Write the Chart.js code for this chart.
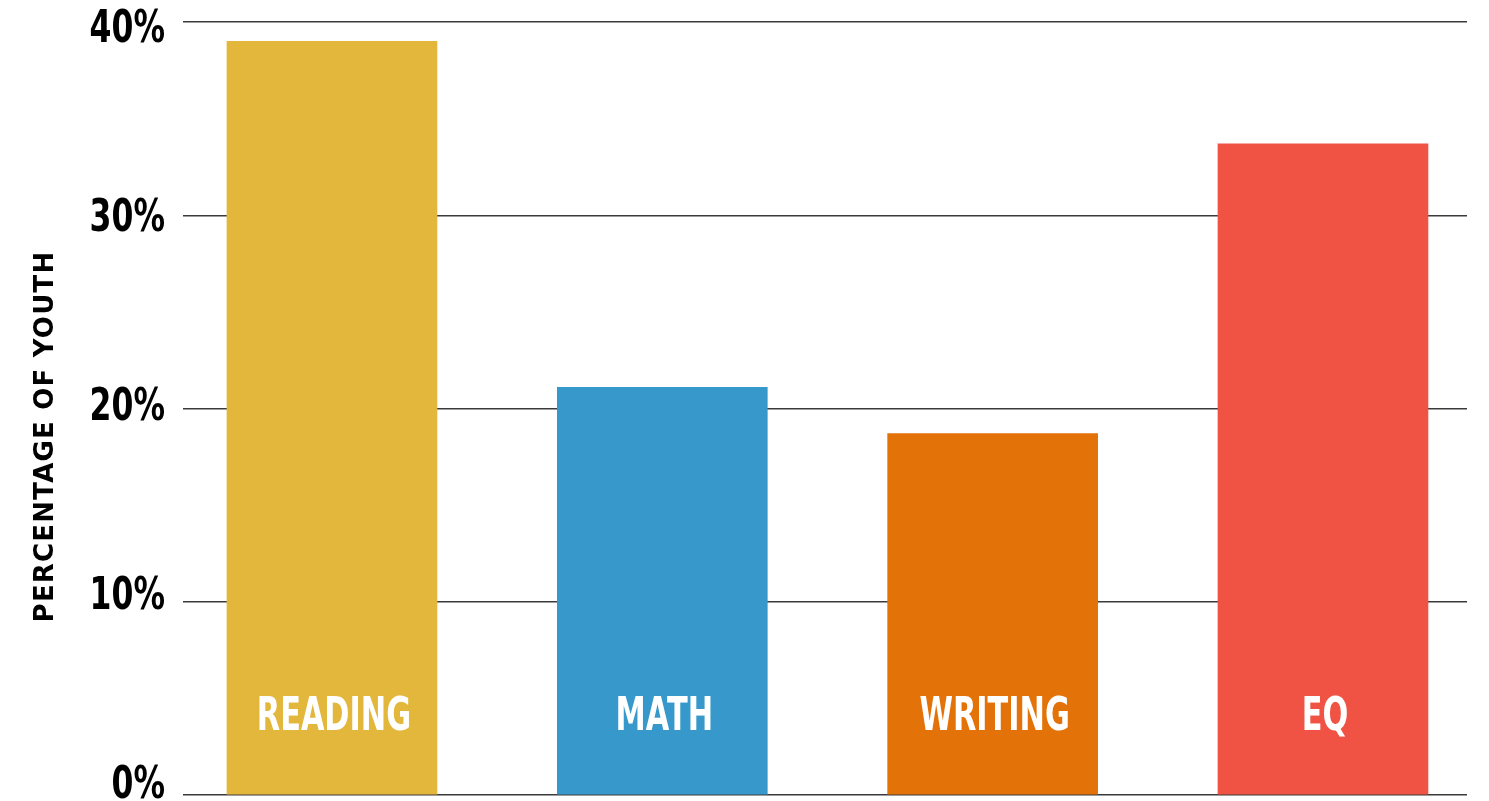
<!DOCTYPE html>
<html lang="en">
<head>
  <meta charset="UTF-8" />
  <title>Percentage of Youth</title>
  <script src="https://cdn.jsdelivr.net/npm/chart.js"></script>
  <style>
    html, body {
      margin: 0;
      padding: 0;
      background: #fff;
    }
    #wrap {
      width: 1489px;
      height: 801px;
      position: relative;
    }
  </style>
</head>
<body>
  <div id="wrap">
    <canvas id="grafico"></canvas>
  </div>

  <script>
    // dados
    const categories = ['READING', 'MATH', 'WRITING', 'EQ'];
    const values = [39.0, 21.1, 18.7, 33.7];
    const barColors = ['#E2B73B', '#3799CB', '#E37209', '#F05344'];
    const yTicks = [0, 10, 20, 30, 40];
    const axisTitle = 'PERCENTAGE OF YOUTH';

    // rotulos do eixo Y, titulo e nomes dentro das barras
    const textosPlugin = {
      id: 'textos',
      afterDatasetsDraw(chart) {
        const ctx = chart.ctx;
        const meta = chart.getDatasetMeta(0);
        const area = chart.chartArea;
        ctx.save();
        ctx.fillStyle = '#fff';
        ctx.font = 'bold 46px "DejaVu Sans"';
        ctx.textAlign = 'center';
        ctx.textBaseline = 'middle';
        meta.data.forEach((bar, i) => {
          ctx.save();
          ctx.translate(bar.x + 2, area.bottom - 77);
          ctx.scale(0.66, 1);
          ctx.fillText(categories[i], 0, 0);
          ctx.restore();
        });
        ctx.restore();
      },
      afterDraw(chart) {
        const ctx = chart.ctx;
        const y = chart.scales.y;
        const area = chart.chartArea;
        ctx.save();
        ctx.fillStyle = '#000';
        ctx.font = 'bold 45px "DejaVu Sans"';
        ctx.textAlign = 'right';
        ctx.textBaseline = 'middle';
        yTicks.forEach(v => {
          const py = y.getPixelForValue(v) + 8 - 17 * (1 - v / 40);
          ctx.save();
          ctx.translate(area.left - 18, py);
          ctx.scale(0.7, 1);
          ctx.fillText(v + '%', 0, 0);
          ctx.restore();
        });

        // titulo do eixo Y
        ctx.save();
        ctx.translate(46, (area.top + area.bottom) / 2 + 28);
        ctx.rotate(-Math.PI / 2);
        ctx.font = 'bold 26px "DejaVu Sans"';
        ctx.letterSpacing = '1.2px';
        ctx.textAlign = 'center';
        ctx.textBaseline = 'middle';
        ctx.fillText(axisTitle, 0, 0);
        ctx.restore();
        ctx.restore();
      }
    };

    new Chart(document.getElementById('grafico'), {
      type: 'bar',
      data: {
        datasets: [{
          data: values.map((v, i) => ({ x: i, y: v })),
          backgroundColor: barColors,
          barThickness: 210,
          borderWidth: 0
        }]
      },
      options: {
        responsive: true,
        maintainAspectRatio: false,
        animation: false,
        layout: {
          padding: { top: 22, bottom: 6, left: 183, right: 22 }
        },
        plugins: {
          legend: { display: false },
          tooltip: { enabled: false }
        },
        scales: {
          x: {
            type: 'linear',
            offset: false,
            min: -0.451,
            max: 3.436,
            display: false
          },
          y: {
            min: 0,
            max: 40,
            ticks: { display: false, stepSize: 10 },
            border: { display: false },
            grid: {
              color: '#3a3a3a',
              lineWidth: 1.5,
              drawTicks: false
            }
          }
        }
      },
      plugins: [textosPlugin]
    });
  </script>
</body>
</html>
